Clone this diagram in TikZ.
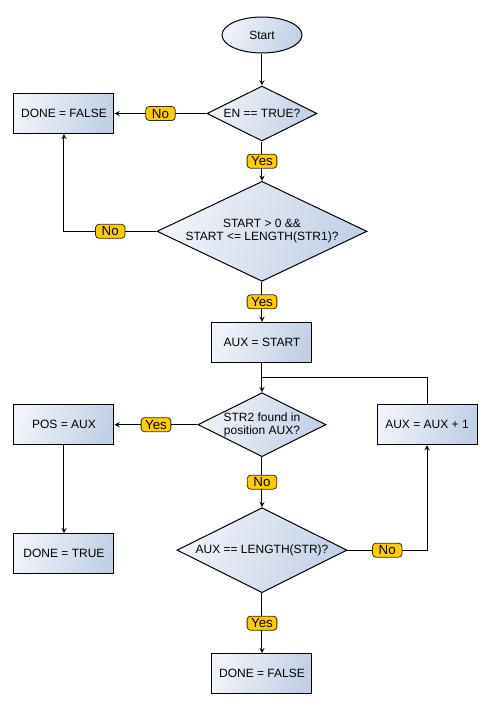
\documentclass[tikz,border=0pt]{standalone}
\usepackage{fontspec}
\setmainfont{Liberation Sans}
\usepackage{tikz}
\usetikzlibrary{arrows, shapes, positioning, calc}

\definecolor{boxlight}{HTML}{F0F3F9}
\definecolor{boxdark}{HTML}{C2D0E6}
\definecolor{tagyellow}{HTML}{FFCC00}
\definecolor{tagline}{HTML}{3A3000}

\begin{document}
\begin{tikzpicture}[
	font=\fontsize{9}{10}\selectfont,
	shaded/.style={draw, line width=0.75pt, top color=boxlight, bottom color=boxdark, shading angle=70},
	process/.style={rectangle, shaded, minimum width=75pt, minimum height=30pt},
	decision/.style={diamond, shaded, inner sep=0pt, align=center},
	terminal/.style={ellipse, shaded, minimum width=60pt, minimum height=27pt},
	tag/.style={rectangle, draw=tagline, line width=0.6pt, fill=tagyellow, rounded corners=2.5pt, font=\fontsize{10}{11}\selectfont, inner xsep=3pt, inner ysep=1pt, minimum width=22pt, minimum height=10.5pt},
	line/.style={line width=0.75pt},
	flow/.style={line, -stealth}
]
			\useasboundingbox (-196.5pt,26.25pt) rectangle (173.25pt,-507pt);
			\node[terminal] (start) {Start};
			\node[decision, aspect=2, minimum width=82.5pt, minimum height=41.25pt, below=24pt of start] (en) {EN == TRUE?};
			\node[decision, aspect=2.1, minimum width=157.5pt, minimum height=75pt, below=29.5pt of en] (range) {START > 0 \&\&\\START <= LENGTH(STR1)?};
			\node[process, below=30pt of range] (auxstart) {AUX = START};
			\node[decision, aspect=2, minimum width=96pt, minimum height=48pt, below=22pt of auxstart] (found) {STR2 found in\\position AUX?};
			\node[decision, aspect=2, minimum width=127.5pt, minimum height=63.75pt, below=37.5pt of found] (last) {AUX == LENGTH(STR)?};
			\node[process, below=45pt of last] (donefalse) {DONE = FALSE};
			\node[process, left=69pt of en] (enfalse) {DONE = FALSE};
			\node[process, left=62.25pt of found] (pos) {POS = AUX};
			\node[process, below=66pt of pos] (donetrue) {DONE = TRUE};
			\node[process, right=37.5pt of found] (auxinc) {AUX = AUX + 1};
			\coordinate (join) at ($(auxstart.south)!0.5!(found.north)$);
			\draw[flow] (start) -- (en);
			\draw[flow] (en) -- node[tag] {Yes} (range);
			\draw[flow] (en) -- node[tag] {No} (enfalse);
			\draw[flow] (range.west) -| node[tag, pos=0.25] {No} (enfalse);
			\draw[flow] (range) -- node[tag] {Yes} (auxstart);
			\draw[flow] (auxstart) -- (found);
			\draw[line] (auxinc.north) |- (join);
			\draw[flow] (found) -- node[tag] {Yes} (pos);
			\draw[flow] (pos) -- (donetrue);
			\draw[flow] (found) -- node[tag] {No} (last);
			\draw[flow] (last.east) -| node[tag, pos=0.25] {No} (auxinc);
			\draw[flow] (last) -- node[tag] {Yes} (donefalse);
		\end{tikzpicture}
\end{document}
